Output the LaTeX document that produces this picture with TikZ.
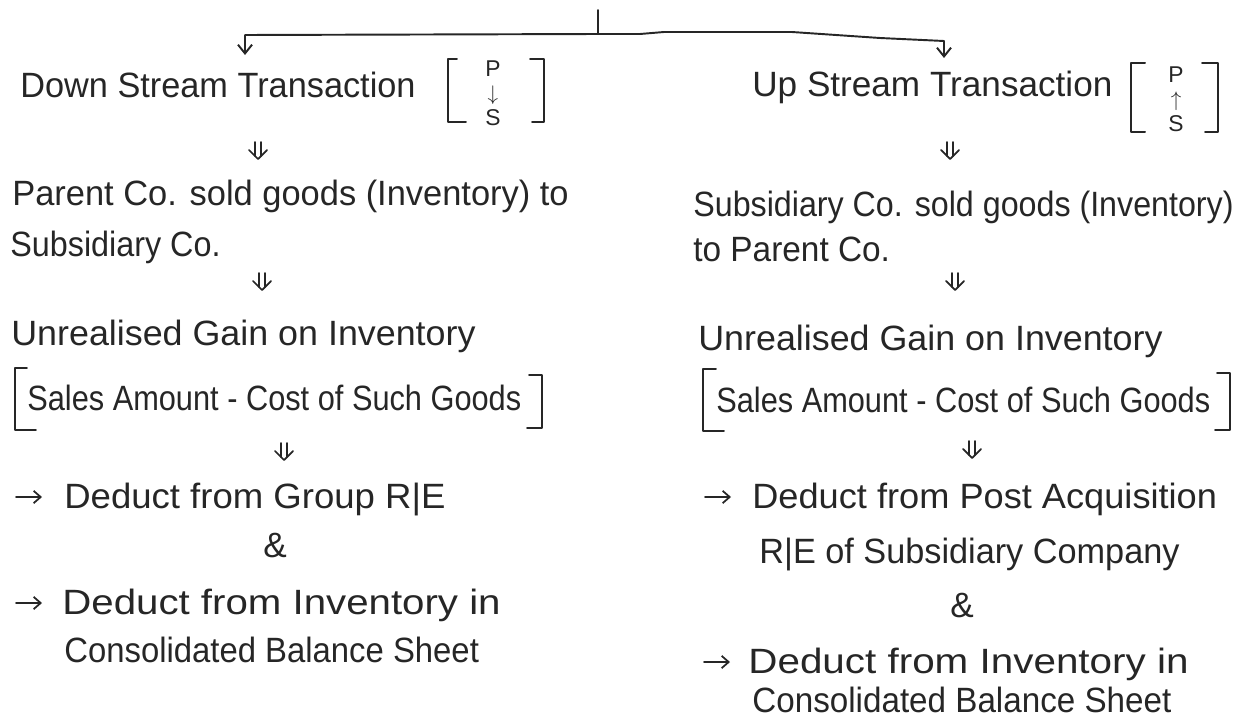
\documentclass[tikz,border=0pt]{standalone}
\usepackage{fontspec}
\setmainfont{Liberation Sans}
\usetikzlibrary{arrows.meta,calc}
\definecolor{ink}{RGB}{38,38,38}
\newcommand{\hsc}[2]{\scalebox{#1}[1]{#2}}
% hand-drawn style double down arrow below a named coordinate
\newcommand{\dbl}[1]{%
  \draw[dl] ($(#1)+(-3,0)$) -- ($(#1)+(-3,14)$);
  \draw[dl] ($(#1)+(3,0)$) -- ($(#1)+(3,14)$);
  \draw[dl] ($(#1)+(-9,8)$) -- ($(#1)+(0,17)$) -- ($(#1)+(9,8)$);}
\begin{document}
\begin{tikzpicture}[x=0.02cm,y=-0.02cm,
  txt/.style={anchor=base west,inner sep=0pt,text=ink,font=\fontsize{20}{24}\selectfont},
  amp/.style={anchor=base,inner sep=0pt,text=ink,font=\fontsize{20}{24}\selectfont},
  ln/.style={draw=ink,line width=1.1pt,line cap=round,line join=round},
  dl/.style={draw=ink,line width=1pt,line cap=round,line join=round},
  sarrow/.style={ln,-{Straight Barb[length=5pt,width=8pt]}},
  barrow/.style={dl,-{Straight Barb[length=4pt,width=7pt]}},
  small/.style={inner sep=0pt,text=ink,font=\fontsize{13}{14}\selectfont,align=center}]
\useasboundingbox (0,0) rectangle (1239,720);

% ---------- top split ----------
\coordinate (top) at (598,10);
\coordinate (jn) at (598,34);
\coordinate (bl) at (245,35);
\coordinate (bl2) at (245,55);
\coordinate (br) at (944,41);
\coordinate (br2) at (944,58);
\draw[ln] (top) -- (jn);
\draw[sarrow] (jn) -- (bl) -- (bl2);
\draw[sarrow] (jn) -- (640,34) -- (664,32) -- (792,32) -- (880,38) -- (br) -- (br2);

% ---------- left column ----------
\node[txt] (dsT) at (20,97) {\hsc{0.976}{Down Stream Transaction}};
\node[small] (ps1) at (493,93) {P\\$\downarrow$\\S};
\draw[ln] (457,59) -- (448,59) -- (448,122) -- (466,122);
\draw[ln] (530,59) -- (544,59) -- (544,122) -- (532,122);

\coordinate (la1) at (258,142);
\dbl{la1}

\node[txt] (pc1) at (12,205) {\hsc{0.98}{Parent Co. sold goods (Inventory) to}};
\node[txt] (pc2) at (10,256) {\hsc{0.92}{Subsidiary Co.}};

\coordinate (la2) at (262,273);
\dbl{la2}

\node[txt] (ug1) at (11,345) {\hsc{1.02}{Unrealised Gain on Inventory}};
\node[txt] (sa1) at (27,410) {\hsc{0.875}{Sales Amount - Cost of Such Goods}};
\draw[ln] (27,368) -- (15,368) -- (15,430) -- (36,430);
\draw[ln] (529,375) -- (542,375) -- (542,428) -- (527,428);

\coordinate (la3) at (284,443);
\dbl{la3}

\coordinate (p1a) at (16,497); \coordinate (p1b) at (42,497);
\draw[barrow] (p1a) -- (p1b);
\node[txt] (dg1) at (64,508) {\hsc{1.04}{Deduct from Group R|E}};
\node[amp] (am1) at (275,557) {\&};
\coordinate (p2a) at (16,603); \coordinate (p2b) at (42,603);
\draw[barrow] (p2a) -- (p2b);
\node[txt] (di1) at (62,614) {\hsc{1.145}{Deduct from Inventory in}};
\node[txt] (cb1) at (64,662) {\hsc{0.935}{Consolidated Balance Sheet}};

% ---------- right column ----------
\node[txt] (usT) at (752,96) {Up Stream Transaction};
\node[small] (ps2) at (1176,99) {P\\$\uparrow$\\S};
\draw[ln] (1145,63) -- (1131,63) -- (1131,132) -- (1145,132);
\draw[ln] (1202,63) -- (1218,63) -- (1218,132) -- (1205,132);

\coordinate (ra1) at (950,142);
\dbl{ra1}

\node[txt] (sc1) at (693,216) {\hsc{0.917}{Subsidiary Co. sold goods (Inventory)}};
\node[txt] (sc2) at (693,261) {\hsc{0.95}{to Parent Co.}};

\coordinate (ra2) at (955,273);
\dbl{ra2}

\node[txt] (ug2) at (698,350) {\hsc{1.02}{Unrealised Gain on Inventory}};
\node[txt] (sa2) at (716,412) {\hsc{0.875}{Sales Amount - Cost of Such Goods}};
\draw[ln] (716,369) -- (703,369) -- (703,431) -- (724,431);
\draw[ln] (1217,373) -- (1230,373) -- (1230,430) -- (1215,430);

\coordinate (ra3) at (972,441);
\dbl{ra3}

\coordinate (q1a) at (705,497); \coordinate (q1b) at (731,497);
\draw[barrow] (q1a) -- (q1b);
\node[txt] (dp2) at (752,508) {\hsc{1.03}{Deduct from Post Acquisition}};
\node[txt] (re2) at (759,563) {\hsc{0.975}{R|E of Subsidiary Company}};
\node[amp] (am2) at (962,617) {\&};
\coordinate (q2a) at (704,662); \coordinate (q2b) at (730,662);
\draw[barrow] (q2a) -- (q2b);
\node[txt] (di2) at (748,673) {\hsc{1.15}{Deduct from Inventory in}};
\node[txt] (cb2) at (752,712) {\hsc{0.945}{Consolidated Balance Sheet}};
\end{tikzpicture}
\end{document}
